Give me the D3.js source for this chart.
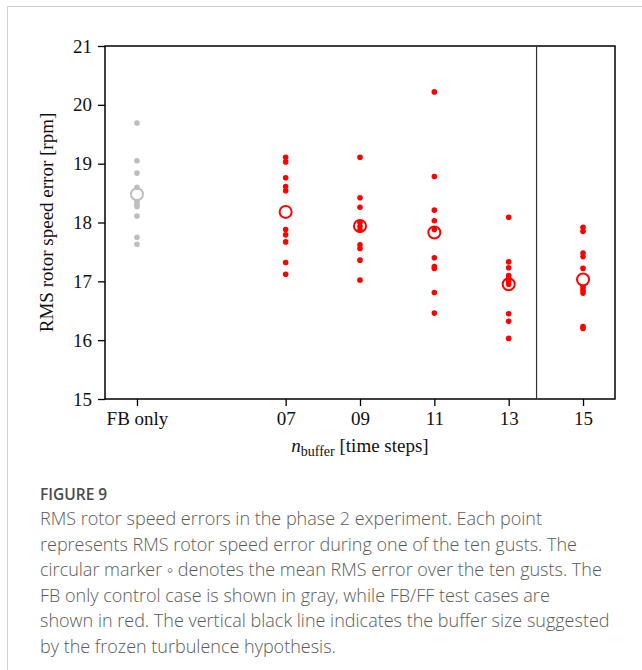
<!DOCTYPE html>
<html>
<head>
<meta charset="utf-8">
<script src="https://cdn.jsdelivr.net/npm/d3@7"></script>
<style>
  body { margin: 0; background: #fff; }
  svg { display: block; }
</style>
</head>
<body>
<script>
// categories and their position on the buffer axis
var categories = ["FB only", "07", "09", "11", "13", "15"];
var positions = [3, 7, 9, 11, 13, 15];
// RMS error per gust (ten gusts per case)
var fbOnly = [19.69, 19.05, 18.84, 18.60, 18.35, 18.31, 18.27, 18.11, 17.75, 17.63];
var buf07 = [19.11, 19.03, 18.76, 18.61, 18.54, 17.88, 17.79, 17.67, 17.32, 17.12];
var buf09 = [19.11, 18.42, 18.26, 18.00, 17.93, 17.87, 17.62, 17.56, 17.36, 17.02];
var buf11 = [20.22, 18.78, 18.21, 18.03, 17.88, 17.40, 17.25, 17.22, 16.81, 16.46];
var buf13 = [18.09, 17.33, 17.23, 17.10, 17.05, 17.00, 16.95, 16.45, 16.32, 16.03];
var buf15 = [17.92, 17.85, 17.48, 17.42, 17.22, 16.90, 16.85, 16.80, 16.23, 16.20];
// mean markers as drawn
var means = [18.48, 18.18, 17.94, 17.83, 16.95, 17.03];
var yTicks = [15, 16, 17, 18, 19, 20, 21];
var frozenBuffer = 13.75;

var series = [fbOnly, buf07, buf09, buf11, buf13, buf15];
var colors = ["#bdbdbd", "#ff0000", "#ff0000", "#ff0000", "#ff0000", "#ff0000"];

var W = 642, H = 670;
var pLeft = 105, pRight = 615, pTop = 46, pBottom = 399;

var svg = d3.select("body").append("svg")
  .attr("width", W).attr("height", H);

// light frame around the figure
svg.append("path")
  .attr("d", "M7.5,700V6.5H700")
  .attr("fill", "none").attr("stroke", "#d0d0d0").attr("stroke-width", 1);

var x = d3.scaleLinear().domain([2.14, 15.86]).range([pLeft, pRight]);
var y = d3.scaleLinear().domain([15, 21]).range([pBottom, pTop]);

var serif = "'Liberation Serif', 'Times New Roman', serif";

// axes
var yAxis = svg.append("g")
  .attr("transform", "translate(" + pLeft + ",0)")
  .call(d3.axisLeft(y).tickValues(yTicks).tickSize(7).tickPadding(6).tickFormat(d3.format("d")));
var xAxis = svg.append("g")
  .attr("transform", "translate(0," + pBottom + ")")
  .call(d3.axisBottom(x).tickValues(positions).tickSize(7).tickPadding(6)
    .tickFormat(function(d, i) { return categories[i]; }));

[xAxis, yAxis].forEach(function(g) {
  g.select(".domain").remove();
  g.selectAll("line").attr("stroke", "#000").attr("stroke-width", 1.3);
  g.selectAll("text").attr("fill", "#111").style("font-family", serif).style("font-size", "19px");
});

// plot frame
svg.append("rect")
  .attr("x", pLeft).attr("y", pTop)
  .attr("width", pRight - pLeft).attr("height", pBottom - pTop)
  .attr("fill", "none").attr("stroke", "#000").attr("stroke-width", 1.5);

// frozen turbulence buffer line
svg.append("line")
  .attr("x1", x(frozenBuffer)).attr("x2", x(frozenBuffer))
  .attr("y1", pTop).attr("y2", pBottom)
  .attr("stroke", "#333").attr("stroke-width", 1.2);

// gust points
series.forEach(function(vals, i) {
  svg.append("g").selectAll("circle")
    .data(vals)
    .enter()
    .append("circle")
    .attr("cx", x(positions[i]))
    .attr("cy", function(d) { return y(d); })
    .attr("r", 2.8)
    .attr("fill", colors[i]);
});

// mean markers
svg.append("g").selectAll("circle")
  .data(means)
  .enter()
  .append("circle")
  .attr("cx", function(d, i) { return x(positions[i]); })
  .attr("cy", function(d) { return y(d); })
  .attr("r", 6)
  .attr("fill", "none")
  .attr("stroke", function(d, i) { return colors[i]; })
  .attr("stroke-width", 2);

// axis labels
svg.append("text")
  .attr("transform", "translate(53," + ((pTop + pBottom) / 2) + ") rotate(-90)")
  .attr("text-anchor", "middle")
  .style("font-family", serif).style("font-size", "19px").attr("fill", "#111")
  .text("RMS rotor speed error [rpm]");

var xl = svg.append("text")
  .attr("x", (pLeft + pRight) / 2).attr("y", 452)
  .attr("text-anchor", "middle")
  .style("font-family", serif).style("font-size", "19px").attr("fill", "#111");
xl.append("tspan").style("font-style", "italic").text("n");
xl.append("tspan").attr("dy", 4).style("font-size", "14px").text("buffer");
xl.append("tspan").attr("dy", -4).text(" [time steps]");

// caption
var sans = "'Open Sans', 'Noto Sans', sans-serif";
svg.append("text")
  .attr("x", 40).attr("y", 500)
  .style("font-family", sans).style("font-size", "15.5px").style("font-weight", 600)
  .attr("fill", "#4a4a4a")
  .text("FIGURE 9");

var captionLines = [
  "RMS rotor speed errors in the phase 2 experiment. Each point",
  "represents RMS rotor speed error during one of the ten gusts. The",
  "circular marker \u25E6 denotes the mean RMS error over the ten gusts. The",
  "FB only control case is shown in gray, while FB/FF test cases are",
  "shown in red. The vertical black line indicates the buffer size suggested",
  "by the frozen turbulence hypothesis."
];
svg.append("g").selectAll("text")
  .data(captionLines)
  .enter()
  .append("text")
  .attr("x", 40)
  .attr("y", function(d, i) { return 525 + i * 25.6; })
  .style("font-family", sans).style("font-size", "18px").style("font-weight", 300)
  .attr("fill", "#5a5a5a")
  .text(function(d) { return d; });
</script>
</body>
</html>
